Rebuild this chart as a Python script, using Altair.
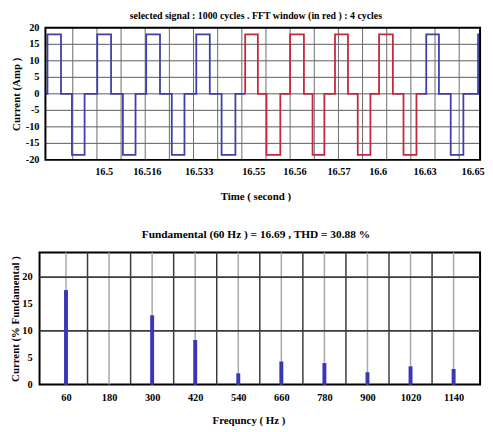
import altair as alt
import pandas as pd
import numpy as np

FONT = "Liberation Serif"

# ---------------- top panel: current waveform ----------------
t_start, t_end = 16.4830, 16.6340          # extent of the recorded trace
t_view0 = 16.48095                          # left edge of the plotting frame
edge_t = [16.4830,
          16.4837, 16.4884, 16.4922, 16.4966,
          16.5010, 16.5058, 16.5099, 16.5143,
          16.5180, 16.5228, 16.5269, 16.5313,
          16.5354, 16.5401, 16.5442, 16.5490,
          16.5524, 16.5568, 16.5598, 16.5646,
          16.5680, 16.5728, 16.5758, 16.5799,
          16.5836, 16.5881, 16.5915, 16.5959,
          16.5989, 16.6037, 16.6074, 16.6119,
          16.6153, 16.6197, 16.6238, 16.6282,
          16.6333]
level_after = [0,
               18, 0, -18.5, 0,
               18, 0, -18.5, 0,
               18, 0, -18.5, 0,
               18, 0, -18.5, 0,
               18, 0, -18.5, 0,
               18, 0, -18.5, 0,
               18, 0, -18.5, 0,
               18, 0, -18.5, 0,
               18, 0, -18.5, 0,
               18]
win_start, win_end = 16.5524, 16.6139

top_tick_t = [16.5034, 16.5184, 16.5364, 16.5554, 16.5697, 16.5850, 16.5986, 16.6149, 16.6316]
top_tick_lbl = ["16.5", "16.516", "16.533", "16.55", "16.56", "16.57", "16.6", "16.63", "16.65"]
top_grid_t = list(np.round(16.4925 + 0.00839 * np.arange(17), 5))
top_y_ticks = [-20, -15, -10, -5, 0, 5, 10, 15, 20]
top_y_lbl = ["-20", "-15", "-10", "-5", "0", "5", "10", "15", "20"]
top_hgrid = [-15, -10, -5, 0, 5, 10, 15]

# ---------------- bottom panel: harmonic spectrum ----------------
freq = [60, 300, 420, 540, 660, 780, 900, 1020, 1140]
pct = [17.6, 12.9, 8.3, 2.1, 4.3, 4.0, 2.3, 3.4, 2.9]
freq_ticks = [60, 180, 300, 420, 540, 660, 780, 900, 1020, 1140]
grid_minor = [60, 180, 300, 420, 540, 660, 780, 900, 1020, 1140]
grid_major = [120, 240, 360, 480, 600, 720, 840, 960, 1080]
grid_h = [10, 20]
bot_y_ticks = [0, 5, 10, 15, 20]
bot_y_lbl = ["0", "5", "10", "15", "20"]


def level_before(t):
    v = level_after[0]
    for et, lv in zip(edge_t, level_after):
        if et < t:
            v = lv
    return v


rows = []
idx = 0
for seg, a, b in [("before", t_start, win_start), ("window", win_start, win_end), ("after", win_end, t_end)]:
    pts = [(a, level_before(a))]
    pts += [(et, lv) for et, lv in zip(edge_t, level_after) if a <= et < b and et > t_start]
    pts.append((b, level_before(b) if seg != "after" else level_after[-1]))
    for t, v in pts:
        rows.append({"t": t, "i": v, "seg": seg, "idx": idx})
        idx += 1
wave = pd.DataFrame(rows)

W1, H1 = 447, 134
xs1 = alt.Scale(domain=[t_view0, t_end], nice=False, zero=False)
ys1 = alt.Scale(domain=[-20, 20], nice=False)
ax_t = alt.Axis(labels=False, ticks=False, domain=False, grid=False,
                title="Time ( second )", titlePadding=31, titleX=219)
ay_t = alt.Axis(labels=False, ticks=False, domain=False, grid=False,
                title="Current (Amp )", titlePadding=18)

frame_df = pd.DataFrame({"a": [t_start], "b": [t_end], "lo": [-20], "hi": [20]})
border1 = alt.Chart(frame_df).mark_rect(fillOpacity=0, stroke="black", strokeWidth=2).encode(
    x=alt.X("a:Q", scale=xs1, axis=ax_t), x2="b:Q",
    y=alt.Y("lo:Q", scale=ys1, axis=ay_t), y2="hi:Q")

hgrid1 = alt.Chart(pd.DataFrame({"v": top_hgrid, "a": t_start, "b": t_end})).mark_rule(
    color="#5a5a5a", strokeWidth=1).encode(
    x=alt.X("a:Q", scale=xs1, axis=ax_t), x2="b:Q", y=alt.Y("v:Q", scale=ys1, axis=ay_t))

vgrid1 = alt.Chart(pd.DataFrame({"t": top_grid_t})).mark_rule(color="#6a6a6a", strokeWidth=1).encode(
    x=alt.X("t:Q", scale=xs1, axis=ax_t))

line = alt.Chart(wave).mark_line(interpolate="step-after", strokeWidth=1.8).encode(
    x=alt.X("t:Q", scale=xs1, axis=ax_t),
    y=alt.Y("i:Q", scale=ys1, axis=ay_t),
    color=alt.Color("seg:N", scale=alt.Scale(domain=["before", "window", "after"],
                                             range=["#3f3fa6", "#c4283a", "#3f3fa6"]), legend=None),
    order=alt.Order("idx:Q"),
)

tick_txt = alt.Chart(pd.DataFrame({"t": top_tick_t, "lbl": top_tick_lbl})).mark_text(
    font=FONT, fontWeight="bold", fontSize=10.5, baseline="middle", color="black").encode(
    x=alt.X("t:Q", scale=xs1, axis=ax_t), y=alt.value(H1 + 12), text="lbl:N")

ylab_txt = alt.Chart(pd.DataFrame({"v": top_y_ticks, "lbl": top_y_lbl})).mark_text(
    font=FONT, fontWeight="bold", fontSize=10.5, baseline="middle", align="right", color="black").encode(
    y=alt.Y("v:Q", scale=ys1, axis=ay_t), x=alt.value(0), text="lbl:N")

top = alt.layer(hgrid1, vgrid1, line, tick_txt, ylab_txt, border1).properties(
    width=W1, height=H1, view=alt.ViewBackground(strokeOpacity=0),
    title=alt.TitleParams("selected signal : 1000 cycles . FFT window (in red ) : 4 cycles",
                          font=FONT, fontSize=10, fontWeight="bold", anchor="middle",
                          frame="group", dx=-4, offset=2))

# bottom
W2, H2 = 447, 134
xs2 = alt.Scale(domain=[0, 1200], nice=False, zero=False)
ys2 = alt.Scale(domain=[0, 24.6], nice=False)
ax_b = alt.Axis(values=freq_ticks, format="d", ticks=False, domain=False, grid=False,
                labelPadding=8, labelOverlap=False, title="Frequncy ( Hz )", titlePadding=12,
                titleX=212)
ay_b = alt.Axis(labels=False, ticks=False, domain=False, grid=False,
                title="Current (% Fundamental )", titlePadding=19, titleFontSize=11)

minor = alt.Chart(pd.DataFrame({"f": grid_minor})).mark_rule(color="#a8a8a8", strokeWidth=1.5).encode(
    x=alt.X("f:Q", scale=xs2, axis=ax_b))
major = alt.Chart(pd.DataFrame({"f": grid_major})).mark_rule(color="#3a3a3a", strokeWidth=1.5).encode(
    x=alt.X("f:Q", scale=xs2, axis=ax_b))
hgrid = alt.Chart(pd.DataFrame({"v": grid_h})).mark_rule(color="#3a3a3a", strokeWidth=1.8).encode(
    y=alt.Y("v:Q", scale=ys2, axis=ay_b))
bars = alt.Chart(pd.DataFrame({"f": freq, "p": pct})).mark_bar(size=4, color="#3838b4").encode(
    x=alt.X("f:Q", scale=xs2, axis=ax_b),
    y=alt.Y("p:Q", scale=ys2, axis=ay_b),
)
ylab_b = alt.Chart(pd.DataFrame({"v": bot_y_ticks, "lbl": bot_y_lbl})).mark_text(
    font=FONT, fontWeight="bold", fontSize=10.5, baseline="middle", align="right", color="black").encode(
    y=alt.Y("v:Q", scale=ys2, axis=ay_b), x=alt.value(-7), text="lbl:N")

bottom = alt.layer(minor, major, hgrid, bars, ylab_b).properties(
    width=W2, height=H2, view=alt.ViewBackground(stroke="black", strokeWidth=2),
    title=alt.TitleParams("Fundamental (60 Hz ) = 16.69 , THD = 30.88 %",
                          font=FONT, fontSize=11.5, fontWeight="bold", anchor="middle",
                          frame="group", dx=-4, offset=11))

chart = alt.vconcat(top, bottom, spacing=27).properties(
    padding=0, background="white"
).configure_view(stroke="black", strokeWidth=2).configure_axis(
    labelFont=FONT, labelFontWeight="bold", labelFontSize=10.5, labelColor="black",
    titleFont=FONT, titleFontWeight="bold", titleFontSize=11, titleColor="black",
)

chart.save("out.html", embed_options={"renderer": "svg", "actions": False})
